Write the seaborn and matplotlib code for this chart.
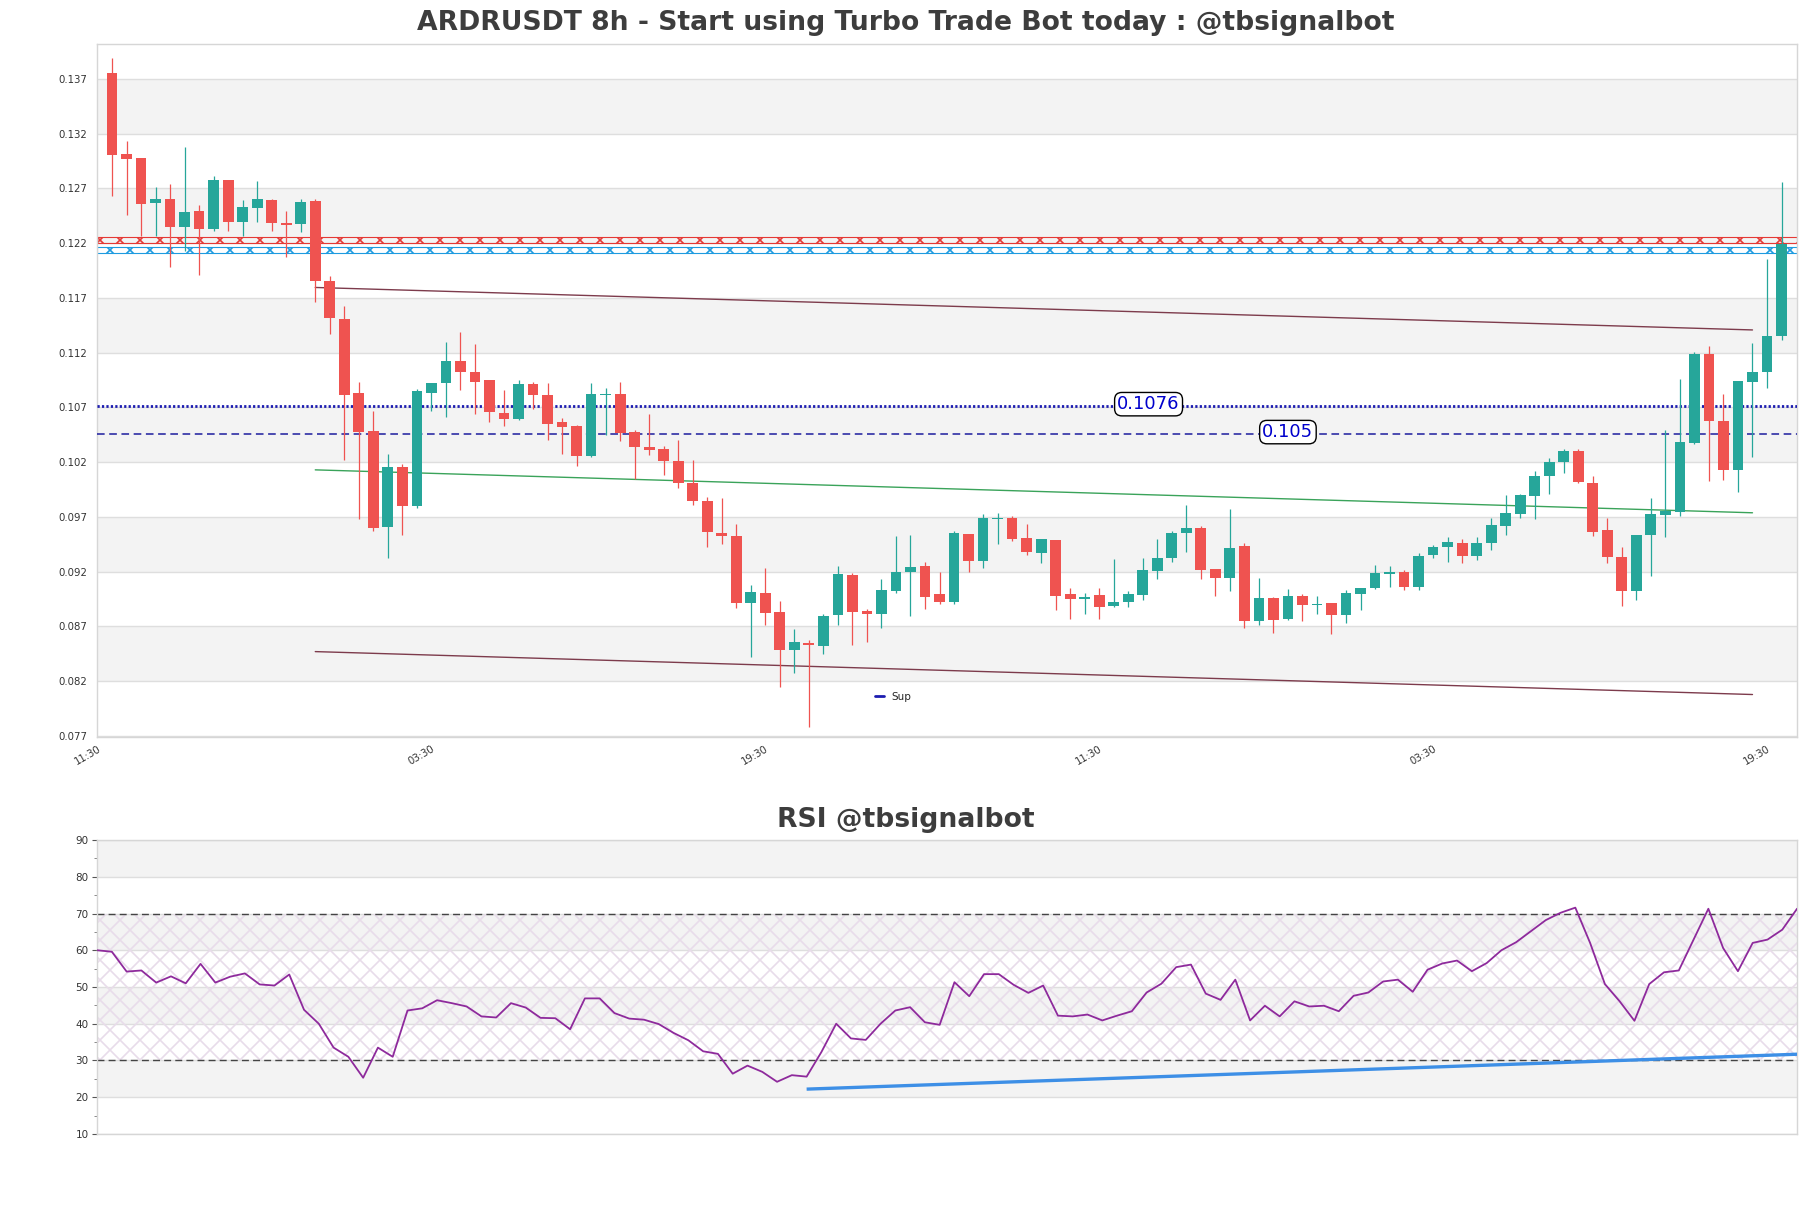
import matplotlib
matplotlib.use("Agg")
import matplotlib.pyplot as plt
import seaborn as sns
import pandas as pd
import numpy as np
from matplotlib.lines import Line2D

# ---------------- data ----------------
opens = [0.13755, 0.13011, 0.12983, 0.12568, 0.12601, 0.12349, 0.12492, 0.12328, 0.12774, 0.12395,
         0.12522, 0.12592, 0.12385, 0.12376, 0.12583, 0.11851, 0.11508, 0.10834, 0.10489, 0.09607,
         0.10160, 0.09799, 0.10834, 0.10919, 0.11122, 0.11022, 0.10953, 0.10650, 0.10598, 0.10916,
         0.10816, 0.10565, 0.10534, 0.10261, 0.10816, 0.10825, 0.10477, 0.10343, 0.10316, 0.10215,
         0.10012, 0.09850, 0.09556, 0.09525, 0.08917, 0.09002, 0.08835, 0.08485, 0.08552, 0.08522,
         0.08802, 0.09169, 0.08838, 0.08811, 0.09020, 0.09197, 0.09252, 0.08993, 0.08923, 0.09540,
         0.09297, 0.09685, 0.09686, 0.09510, 0.09373, 0.09486, 0.08993, 0.08954, 0.08984, 0.08887,
         0.08926, 0.08987, 0.09206, 0.09321, 0.09556, 0.09595, 0.09221, 0.09139, 0.09434, 0.08750,
         0.08963, 0.08765, 0.08978, 0.08894, 0.08911, 0.08805, 0.08999, 0.09048, 0.09182, 0.09197,
         0.09060, 0.09349, 0.09425, 0.09464, 0.09343, 0.09458, 0.09616, 0.09729, 0.09890, 0.10072,
         0.10200, 0.10306, 0.10012, 0.09577, 0.09337, 0.09024, 0.09531, 0.09717, 0.09744, 0.10376,
         0.11189, 0.10580, 0.10127, 0.10937, 0.11022, 0.11350]
highs = [0.13891, 0.13138, 0.12983, 0.12710, 0.12738, 0.13075, 0.12546, 0.12810, 0.12774, 0.12592,
         0.12765, 0.12601, 0.12492, 0.12601, 0.12601, 0.11897, 0.11623, 0.10931, 0.10671, 0.10279,
         0.10179, 0.10865, 0.10925, 0.11296, 0.11387, 0.11280, 0.10953, 0.10864, 0.10955, 0.10937,
         0.10925, 0.10604, 0.10543, 0.10925, 0.10877, 0.10931, 0.10498, 0.10644, 0.10346, 0.10407,
         0.10224, 0.09884, 0.09875, 0.09632, 0.09075, 0.09236, 0.08932, 0.08680, 0.08577, 0.08811,
         0.09252, 0.09191, 0.08856, 0.09130, 0.09525, 0.09531, 0.09291, 0.09200, 0.09571, 0.09540,
         0.09723, 0.09738, 0.09708, 0.09632, 0.09501, 0.09486, 0.09048, 0.09008, 0.09048, 0.09318,
         0.09024, 0.09328, 0.09495, 0.09571, 0.09805, 0.09616, 0.09221, 0.09777, 0.09464, 0.09145,
         0.08972, 0.09039, 0.08993, 0.08978, 0.08917, 0.09030, 0.09054, 0.09261, 0.09252, 0.09212,
         0.09373, 0.09443, 0.09519, 0.09495, 0.09516, 0.09692, 0.09896, 0.09905, 0.10118, 0.10240,
         0.10322, 0.10322, 0.10078, 0.09692, 0.09425, 0.09531, 0.09875, 0.10498, 0.10962, 0.11211,
         0.11259, 0.10825, 0.10946, 0.11289, 0.12054, 0.12762]
lows = [0.12631, 0.12458, 0.12267, 0.12267, 0.11985, 0.12130, 0.11912, 0.12313, 0.12313, 0.12267,
        0.12395, 0.12313, 0.12076, 0.12303, 0.11660, 0.11375, 0.10218, 0.09683, 0.09571, 0.09324,
        0.09534, 0.09784, 0.10671, 0.10612, 0.10864, 0.10643, 0.10565, 0.10528, 0.10583, 0.10688,
        0.10401, 0.10279, 0.10164, 0.10249, 0.10452, 0.10392, 0.10042, 0.10264, 0.10081, 0.09966,
        0.09805, 0.09425, 0.09449, 0.08865, 0.08422, 0.08710, 0.08148, 0.08279, 0.07777, 0.08446,
        0.08713, 0.08531, 0.08558, 0.08686, 0.09008, 0.08796, 0.08856, 0.08902, 0.08902, 0.09197,
        0.09230, 0.09449, 0.09480, 0.09352, 0.09276, 0.08847, 0.08765, 0.08811, 0.08765, 0.08878,
        0.08878, 0.08938, 0.09130, 0.09288, 0.09379, 0.09130, 0.08978, 0.09024, 0.08683, 0.08713,
        0.08644, 0.08759, 0.08750, 0.08817, 0.08634, 0.08735, 0.08850, 0.09039, 0.09060, 0.09030,
        0.09030, 0.09321, 0.09288, 0.09276, 0.09303, 0.09397, 0.09531, 0.09686, 0.09683, 0.09914,
        0.10097, 0.10012, 0.09525, 0.09276, 0.08887, 0.08938, 0.09160, 0.09519, 0.09708, 0.10367,
        0.10027, 0.10036, 0.09926, 0.10249, 0.10877, 0.11320]
closes = [0.13005, 0.12965, 0.12558, 0.12601, 0.12349, 0.12483, 0.12328, 0.12774, 0.12395, 0.12528,
          0.12601, 0.12385, 0.12364, 0.12574, 0.11857, 0.11514, 0.10810, 0.10474, 0.09598, 0.10160,
          0.09799, 0.10849, 0.10925, 0.11122, 0.11022, 0.10937, 0.10656, 0.10598, 0.10916, 0.10810,
          0.10553, 0.10519, 0.10261, 0.10825, 0.10825, 0.10468, 0.10337, 0.10309, 0.10209, 0.10012,
          0.09844, 0.09562, 0.09525, 0.08917, 0.09017, 0.08826, 0.08485, 0.08561, 0.08531, 0.08796,
          0.09176, 0.08832, 0.08817, 0.09030, 0.09200, 0.09245, 0.08969, 0.08923, 0.09549, 0.09297,
          0.09686, 0.09688, 0.09495, 0.09379, 0.09501, 0.08978, 0.08954, 0.08972, 0.08878, 0.08926,
          0.08993, 0.09212, 0.09328, 0.09549, 0.09595, 0.09215, 0.09139, 0.09419, 0.08750, 0.08957,
          0.08759, 0.08978, 0.08896, 0.08898, 0.08805, 0.09002, 0.09054, 0.09185, 0.09200, 0.09060,
          0.09343, 0.09425, 0.09473, 0.09343, 0.09464, 0.09622, 0.09732, 0.09896, 0.10078, 0.10206,
          0.10300, 0.10018, 0.09562, 0.09334, 0.09024, 0.09531, 0.09723, 0.09753, 0.10382, 0.11189,
          0.10573, 0.10127, 0.10946, 0.11022, 0.11350, 0.12197]

rsi = [60.0, 59.6, 54.2, 54.5, 51.2, 52.9, 51.0, 56.3, 51.2, 52.8,
       53.7, 50.7, 50.4, 53.4, 43.8, 40.0, 33.5, 31.0, 25.3, 33.5,
       31.0, 43.6, 44.2, 46.4, 45.6, 44.7, 42.0, 41.7, 45.6, 44.4,
       41.6, 41.5, 38.5, 46.9, 46.9, 42.9, 41.4, 41.1, 39.9, 37.5,
       35.5, 32.5, 31.8, 26.4, 28.6, 26.9, 24.2, 26.0, 25.6, 32.3,
       40.0, 36.0, 35.6, 40.0, 43.6, 44.5, 40.4, 39.7, 51.3, 47.5,
       53.5, 53.5, 50.6, 48.4, 50.4, 42.2, 42.0, 42.5, 40.9, 42.2,
       43.4, 48.5, 50.9, 55.4, 56.1, 48.2, 46.5, 52.0, 40.9, 44.9,
       42.0, 46.1, 44.7, 44.9, 43.4, 47.6, 48.5, 51.5, 52.0, 48.7,
       54.7, 56.4, 57.2, 54.3, 56.5, 60.0, 62.2, 65.2, 68.2, 70.2,
       71.6, 62.0, 50.8, 46.1, 40.8, 50.8, 54.0, 54.5, 62.9, 71.3,
       60.6, 54.3, 62.0, 62.9, 65.6, 71.3]

xtick_pos = [-1, 22, 45, 68, 91, 114]
xtick_labels = ["11:30", "03:30", "19:30", "11:30", "03:30", "19:30"]
price_ticks = [0.077, 0.082, 0.087, 0.092, 0.097, 0.102, 0.107, 0.112, 0.117, 0.122, 0.127, 0.132, 0.137]
price_tick_labels = ["0.077", "0.082", "0.087", "0.092", "0.097", "0.102", "0.107", "0.112",
                     "0.117", "0.122", "0.127", "0.132", "0.137"]
price_gray_bands = [0.082, 0.092, 0.102, 0.112, 0.122, 0.132]
rsi_ticks = [10, 20, 30, 40, 50, 60, 70, 80, 90]
rsi_minor_ticks = [15, 25, 35, 45, 55, 65, 75, 85]
rsi_gray_bands = [20, 40, 60, 80]

upper_channel_x = [14, 113]
upper_channel_y = [0.11796, 0.11408]
lower_channel_x = [14, 113]
lower_channel_y = [0.08470, 0.08078]
mid_line_x = [14, 113]
mid_line_y = [0.10130, 0.09738]

sup_dotted_level = 0.1071
sup_dotted_text = "0.1076"
sup_dotted_label_x = 71.4
sup_dashed_level = 0.10458
sup_dashed_text = "0.105"
sup_dashed_label_x = 81.0

red_zone = (0.12200, 0.12260)
blue_zone = (0.12108, 0.12169)

rsi_trend_x = [48, 115]
rsi_trend_y = [22.2, 31.7]

title_main = "ARDRUSDT 8h - Start using Turbo Trade Bot today : @tbsignalbot"
title_rsi = "RSI @tbsignalbot"

# ---------------- style ----------------
DPI = 120
K = 100.0 / DPI   # sizes below were tuned in 1/100-inch pixels

sns.set_theme(style="white")
plt.rcParams["font.family"] = ["DejaVu Sans"]
plt.rcParams["hatch.linewidth"] = 1.0

UP = "#26a69a"
DOWN = "#ef5350"
GRID = "#dedede"
BAND = "#f3f3f3"
SPINE = "#d6d6d6"
TXT = "#3d3d3d"

fig = plt.figure(figsize=(1811 / DPI, 1208 / DPI), dpi=DPI)
ax = fig.add_axes([0.0536, 0.3899, 0.9387, 0.5737])
ax2 = fig.add_axes([0.0536, 0.0613, 0.9387, 0.2433])

# ---------------- main price chart ----------------
df = pd.DataFrame({"open": opens, "high": highs, "low": lows, "close": closes})
df["idx"] = np.arange(len(df))
df["up"] = df["close"] >= df["open"]
df["color"] = np.where(df["up"], UP, DOWN)
df["bottom"] = df[["open", "close"]].min(axis=1)
df["height"] = (df["close"] - df["open"]).abs().clip(lower=0.00008)

for lo in price_gray_bands:
    ax.axhspan(lo, lo + 0.005, color=BAND, zorder=0, lw=0)
for t in price_ticks:
    ax.axhline(t, color=GRID, lw=1.0 * K, zorder=0.5)

ax.vlines(df["idx"], df["low"], df["high"], colors=df["color"], lw=0.9 * K, zorder=3)
ax.bar(df["idx"], df["height"], bottom=df["bottom"], width=0.74, color=df["color"],
       linewidth=0, zorder=4)

# hatched resistance zones
ax.axhspan(red_zone[0], red_zone[1], facecolor="none", edgecolor="#e53935",
           hatch="xx", lw=0.8 * K, zorder=2)
ax.axhspan(blue_zone[0], blue_zone[1], facecolor="none", edgecolor="#1e9be0",
           hatch="xx", lw=0.8 * K, zorder=2)

# channel lines
ax.plot(upper_channel_x, upper_channel_y, color="#7d3b4c", lw=1.0 * K, zorder=2.5)
ax.plot(lower_channel_x, lower_channel_y, color="#7d3b4c", lw=1.0 * K, zorder=2.5)
ax.plot(mid_line_x, mid_line_y, color="#3aa35a", lw=1.0 * K, zorder=2.5)

# support levels
ax.axhline(sup_dotted_level, color="#1c1cb0", lw=2.0 * K, linestyle=(0, (0.8, 0.8)), zorder=2.6)
ax.axhline(sup_dashed_level, color="#1c1c9e", lw=1.1 * K, linestyle=(0, (5, 3)), zorder=2.6)
box = dict(boxstyle="round,pad=0.15,rounding_size=0.4", fc="white", ec="black", lw=1.0 * K)
ax.text(sup_dotted_label_x, sup_dotted_level + 0.0002, sup_dotted_text, color="#0000cc",
        fontsize=13 * K, ha="center", va="center", bbox=box, zorder=6)
ax.text(sup_dashed_label_x, sup_dashed_level + 0.00017, sup_dashed_text, color="#0000cc",
        fontsize=13 * K, ha="center", va="center", bbox=box, zorder=6)

handle = Line2D([0], [0], color="#1c1cb0", lw=2.0 * K)
ax.legend([handle], ["Sup"], loc="center left", bbox_to_anchor=(0.452, 0.058),
          frameon=False, fontsize=7.5 * K, handlelength=0.9, handletextpad=0.7)

ax.set_xlim(-1.03, 116.07)
ax.set_ylim(0.0769, 0.1402)
ax.set_yticks(price_ticks)
ax.set_yticklabels(price_tick_labels)
ax.set_xticks(xtick_pos)
ax.set_xticklabels(xtick_labels, rotation=30, ha="right", va="top", rotation_mode="anchor")
ax.tick_params(axis="y", length=0, labelsize=7.3 * K, colors="#333333", pad=7 * K)
ax.tick_params(axis="x", length=0, labelsize=7.3 * K, colors="#333333", pad=5 * K)
for s in ax.spines.values():
    s.set_color(SPINE)
    s.set_linewidth(1.0 * K)
ax.set_xlabel("")
ax.set_ylabel("")

# ---------------- RSI chart ----------------
rsi_df = pd.DataFrame({"i": np.arange(len(rsi)), "rsi": rsi})
for lo in rsi_gray_bands:
    ax2.axhspan(lo, lo + 10, color=BAND, zorder=0, lw=0)
for t in rsi_ticks:
    ax2.axhline(t, color=GRID, lw=1.0 * K, zorder=0.5)
ax2.fill_between([0, len(rsi) - 1], 30, 70, facecolor="none", edgecolor="#e8dcea",
                 hatch="xx", lw=0, zorder=0.8)
ax2.axhline(70, color="#444444", lw=1.0 * K, linestyle=(0, (5, 3)), zorder=2)
ax2.axhline(30, color="#444444", lw=1.0 * K, linestyle=(0, (5, 3)), zorder=2)
sns.lineplot(data=rsi_df, x="i", y="rsi", ax=ax2, color="#8e2a9c", lw=1.3 * K, zorder=3)
ax2.plot(rsi_trend_x, rsi_trend_y, color="#3d8fe6", lw=2.4 * K, zorder=4, solid_capstyle="butt")

ax2.set_xlim(0, len(rsi) - 1)
ax2.set_ylim(10, 90)
ax2.set_yticks(rsi_ticks)
ax2.set_yticks(rsi_minor_ticks, minor=True)
ax2.set_xticks([])
ax2.tick_params(axis="y", which="major", length=3.6 * K, width=0.8 * K, color="#555555",
                labelsize=7.5 * K, labelcolor="#333333", pad=2.5 * K, left=True)
ax2.tick_params(axis="y", which="minor", length=2.2 * K, width=0.6 * K, color="#777777", left=True)
for s in ax2.spines.values():
    s.set_color(SPINE)
    s.set_linewidth(1.0 * K)
ax2.set_xlabel("")
ax2.set_ylabel("")

# ---------------- titles ----------------
fig.text(0.5, 0.981, title_main, ha="center", va="center", fontsize=19.2 * K,
         fontweight="bold", color=TXT)
fig.text(0.5, 0.3212, title_rsi, ha="center", va="center", fontsize=19.2 * K,
         fontweight="bold", color=TXT)

fig.savefig("out.png", dpi=DPI)
